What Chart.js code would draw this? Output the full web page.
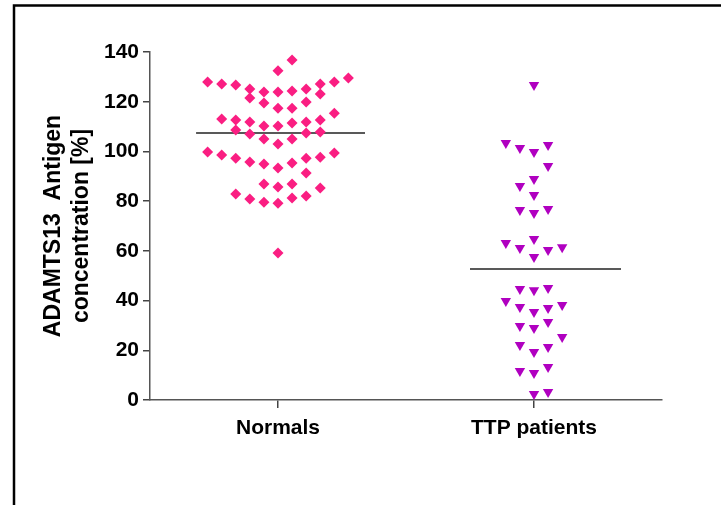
<!DOCTYPE html>
<html>
<head>
<meta charset="utf-8">
<script src="https://cdn.jsdelivr.net/npm/chart.js@4.4.1/dist/chart.umd.min.js"></script>
<style>
  html, body { margin: 0; padding: 0; background: #fff; }
  canvas { display: block; }
</style>
</head>
<body>
<canvas id="chart" width="721" height="505"></canvas>
<script>
// groups on the x axis
const groups = ['Normals', 'TTP patients'];
const groupPos = [0.5, 1.5];
const yTicks = [0, 20, 40, 60, 80, 100, 120, 140];

// ADAMTS13 antigen [%] per subject, with the column slot used in the dot plot
const normalsValues = [
  136.8, 132.5, 127.9, 127.1, 126.7, 125.1, 121.5, 123.9, 119.5, 123.9,
  117.4, 124.3, 117.4, 125.1, 119.9, 127.1, 123.1, 127.9, 129.5, 115.4,
  113.0, 112.6, 108.6, 111.8, 107.0, 110.2, 105.0, 110.2, 103.0, 111.4,
  105.0, 111.8, 107.4, 112.6, 107.8, 99.8, 98.6, 97.3, 95.7, 94.9,
  93.3, 95.3, 97.3, 91.3, 97.7, 99.4, 86.9, 85.7, 86.9, 85.3,
  82.9, 80.9, 79.6, 79.2, 81.3, 82.1, 59.1
];
const normalsSlots = [
  1, 0, -5, -4, -3, -2, -2, -1, -1, 0,
  0, 1, 1, 2, 2, 3, 3, 4, 5, 4,
  -4, -3, -3, -2, -2, -1, -1, 0, 0, 1,
  1, 2, 2, 3, 3, -5, -4, -3, -2, -1,
  0, 1, 2, 2, 3, 4, -1, 0, 1, 3,
  -3, -2, -1, 0, 1, 2, 0
];
const ttpValues = [
  126.7, 103.4, 101.4, 99.8, 102.6, 94.1, 88.9, 86.1, 82.5, 76.4,
  75.2, 76.8, 63.2, 61.1, 64.8, 57.5, 60.3, 61.5, 44.7, 44.2,
  45.1, 39.8, 37.4, 35.4, 37.0, 38.2, 29.8, 29.0, 31.4, 22.1,
  19.3, 21.3, 25.3, 11.7, 10.9, 13.3, 2.4, 3.2
];
const ttpSlots = [
  0, -2, -1, 0, 1, 1, 0, -1, 0, -1,
  0, 1, -2, -1, 0, 0, 1, 2, -1, 0,
  1, -2, -1, 0, 1, 2, -1, 0, 1, -1,
  0, 1, 2, -1, 0, 1, 0, 1
];
// group centre lines
const centreValues = [107.4, 52.7];
const centreSpan = [[0.18, 0.84], [1.25, 1.84]];

const slotStep = 0.055;
const font = 'Liberation Sans, Arial, sans-serif';

function toPoints(values, slots, g) {
  return values.map((v, i) => ({ x: groupPos[g] + slots[i] * slotStep, y: v }));
}

const frame = {
  id: 'frame',
  beforeDraw(chart) {
    const ctx = chart.ctx;
    ctx.save();
    ctx.fillStyle = '#fff';
    ctx.fillRect(0, 0, chart.width, chart.height);
    ctx.strokeStyle = '#000';
    ctx.lineWidth = 2.5;
    ctx.beginPath();
    ctx.moveTo(14, chart.height);
    ctx.lineTo(14, 5.5);
    ctx.lineTo(chart.width, 5.5);
    ctx.stroke();
    ctx.restore();
  }
};

new Chart(document.getElementById('chart'), {
  type: 'scatter',
  data: {
    datasets: [
      {
        data: toPoints(normalsValues, normalsSlots, 0),
        pointStyle: 'rectRot',
        pointRadius: 5.5,
        backgroundColor: '#fa1e82',
        borderWidth: 0
      },
      {
        data: toPoints(ttpValues, ttpSlots, 1),
        pointStyle: 'triangle',
        rotation: 180,
        pointRadius: 6,
        backgroundColor: '#b000c0',
        borderWidth: 0
      },
      ...centreValues.map((v, g) => ({
        type: 'line',
        data: centreSpan[g].map(x => ({ x: x, y: v })),
        borderColor: '#222',
        borderWidth: 1.5,
        pointRadius: 0
      }))
    ]
  },
  options: {
    responsive: false,
    animation: false,
    layout: { padding: { top: 52, right: 59, left: 0, bottom: 0 } },
    plugins: {
      legend: { display: false },
      tooltip: { enabled: false }
    },
    scales: {
      x: {
        type: 'linear',
        min: 0,
        max: 2,
        afterBuildTicks: s => { s.ticks = groupPos.map(v => ({ value: v })); },
        afterFit: s => { s.height = 105; },
        ticks: {
          callback: (v, i) => groups[i],
          color: '#000',
          font: { family: font, size: 21, weight: 'bold' },
          padding: 8,
          maxRotation: 0
        },
        grid: { drawOnChartArea: false, tickLength: 8, color: '#444', lineWidth: 1.5 },
        border: { color: '#555', width: 1.5 }
      },
      y: {
        min: 0,
        max: 140,
        afterBuildTicks: s => { s.ticks = yTicks.map(v => ({ value: v })); },
        afterFit: s => { s.width = 150; },
        ticks: {
          color: '#000',
          font: { family: font, size: 21, weight: 'bold' },
          padding: 4
        },
        grid: { drawOnChartArea: false, tickLength: 7, color: '#444', lineWidth: 1.5 },
        border: { color: '#555', width: 1.5 },
        title: {
          display: true,
          text: ['ADAMTS13  Antigen', 'concentration [%]'],
          color: '#000',
          font: { family: font, size: 23, weight: 'bold', lineHeight: '28px' },
          padding: { top: 40, bottom: 0 }
        }
      }
    }
  },
  plugins: [frame]
});
</script>
</body>
</html>
